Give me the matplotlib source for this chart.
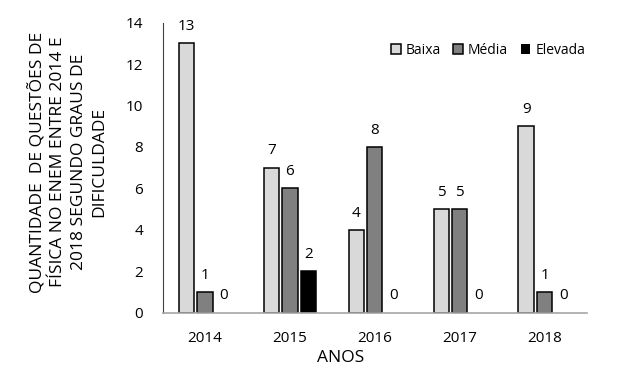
import numpy as np
from matplotlib import pyplot as plt

plt.rcParams['font.family'] = ['Open Sans', 'DejaVu Sans']

anos = ['2014', '2015', '2016', '2017', '2018']
baixa = [13, 7, 4, 5, 9]
media = [1, 6, 8, 5, 1]
elevada = [0, 2, 0, 0, 0]

series = [('Baixa', baixa, '#d9d9d9'),
          ('Média', media, '#808080'),
          ('Elevada', elevada, '#000000')]

fig = plt.figure(figsize=(6.18, 3.71), dpi=100)
ax = fig.add_axes([0.263, 0.157, 0.687, 0.782])

x = np.arange(len(anos))
w = 0.18
off = 0.218
for i, (nome, vals, cor) in enumerate(series):
    pos = x + (i - 1)*off
    lw = [1.1 if v > 0 else 0 for v in vals]
    ax.bar(pos, vals, w, color=cor, edgecolor='black', linewidth=lw, label=nome)
    for p, v in zip(pos, vals):
        ax.text(p, v + 0.45, str(v), ha='center', va='bottom', fontsize=11)

ax.set_xlim(-0.5, 4.5)
ax.set_ylim(0, 14)
ax.set_yticks(range(0, 15, 2))
ax.set_xticks(x)
ax.set_xticklabels(anos)
ax.tick_params(length=0, labelsize=11)
ax.tick_params(axis='x', pad=13)
ax.tick_params(axis='y', pad=14)

for s in ['top', 'right']:
    ax.spines[s].set_visible(False)
ax.spines['left'].set_color('#404040')
ax.spines['left'].set_linewidth(0.8)
ax.spines['bottom'].set_color('#a6a6a6')
ax.spines['bottom'].set_linewidth(1.2)

ax.set_xlabel('ANOS', fontsize=12.5)
ax.xaxis.set_label_coords(0.42, -0.13)
ax.set_ylabel('QUANTIDADE  DE QUESTÕES DE\nFÍSICA NO ENEM ENTRE 2014 E\n2018 SEGUNDO GRAUS DE\nDIFICULDADE',
              fontsize=12.5, linespacing=1.37)
ax.yaxis.set_label_coords(-0.13, 0.52)

ax.legend(loc='upper right', bbox_to_anchor=(1.015, 0.96), frameon=False, ncol=3,
          fontsize=10, handlelength=0.7, handleheight=0.7, handletextpad=0.35,
          columnspacing=0.9, borderaxespad=0.2)

fig.savefig('out.png', dpi=100)
